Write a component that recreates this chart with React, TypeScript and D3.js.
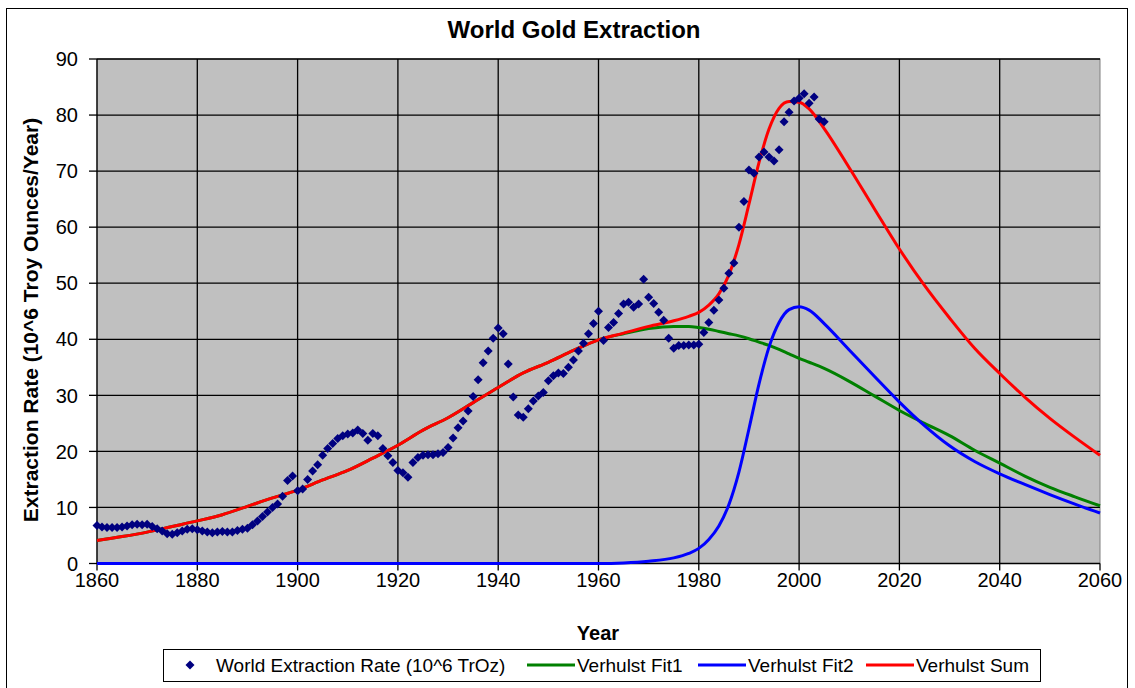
import React from "react";
import * as d3 from "d3";

// ---------- DATA ----------
const extractionStartYear = 1860;
// World extraction rate (10^6 troy oz / year), one value per year from 1860
const extractionValues = [
  6.8, 6.5, 6.4, 6.4, 6.4, 6.5, 6.7, 6.9, 7.0, 6.9,
  7.0, 6.6, 6.2, 5.8, 5.3, 5.2, 5.5, 5.8, 6.1, 6.2,
  6.0, 5.8, 5.6, 5.5, 5.6, 5.7, 5.6, 5.6, 5.9, 6.1,
  6.3, 6.9, 7.6, 8.4, 9.2, 10.0, 10.6, 12.0, 14.8, 15.6,
  13.0, 13.3, 15.0, 16.5, 17.6, 19.3, 20.5, 21.4, 22.3, 22.8,
  23.1, 23.3, 23.8, 23.2, 22.0, 23.2, 22.8, 20.5, 19.2, 18.0,
  16.6, 16.2, 15.4, 18.0, 18.9, 19.3, 19.4, 19.4, 19.6, 19.8,
  20.7, 22.4, 24.2, 25.4, 27.2, 29.8, 32.8, 35.8, 37.9, 40.2,
  42.0, 41.0, 35.6, 29.7, 26.5, 26.1, 27.6, 29.0, 29.9, 30.5,
  32.6, 33.5, 34.0, 33.9, 35.0, 36.3, 37.9, 39.3, 41.0, 42.8,
  45.0, 39.8, 42.1, 43.0, 44.6, 46.3, 46.6, 45.7, 46.3, 50.7,
  47.5, 46.4, 44.8, 43.4, 40.2, 38.4, 38.9, 38.9, 39.0, 39.0,
  39.1, 41.2, 43.0, 45.2, 47.0, 49.1, 51.8, 53.6, 60.0, 64.6,
  70.2, 69.6, 72.5, 73.4, 72.5, 71.8, 73.8, 78.8, 80.5, 82.5,
  83.0, 83.8, 82.1, 83.2, 79.3, 78.8,
];

const fitYears = [
  1860, 1865, 1870, 1875, 1880, 1885, 1890, 1895, 1900, 1905,
  1910, 1915, 1920, 1925, 1930, 1935, 1940, 1945, 1950, 1955,
  1960, 1965, 1970, 1975, 1978, 1980, 1982, 1984, 1986, 1988,
  1990, 1992, 1994, 1996, 1998, 2000, 2002, 2005, 2010, 2015,
  2020, 2025, 2030, 2035, 2040, 2045, 2050, 2055, 2060,
];
const fit1Values = [
  4.1, 4.8, 5.6, 6.6, 7.6, 8.7, 10.2, 11.7, 13.1, 14.9,
  16.6, 18.8, 21.1, 23.8, 26.0, 28.7, 31.4, 34.0, 35.9, 38.0,
  39.9, 41.0, 41.9, 42.3, 42.3, 42.1, 41.8, 41.4, 41.0, 40.6,
  40.1, 39.5, 38.9, 38.2, 37.4, 36.6, 35.9, 34.8, 32.5, 29.9,
  27.3, 25.0, 22.8, 20.2, 17.9, 15.6, 13.6, 11.9, 10.3,
];
const fit2Values = [
  0, 0, 0, 0, 0, 0, 0, 0, 0, 0,
  0, 0, 0, 0, 0, 0, 0, 0, 0, 0,
  0, 0.1, 0.4, 1.0, 1.8, 2.7, 4.3, 6.7, 10.5, 16.3,
  24.0, 32.0, 38.6, 43.0, 45.3, 45.8, 45.2, 42.8, 38.1, 33.4,
  28.8, 24.6, 21.0, 18.2, 16.0, 14.1, 12.3, 10.6, 9.0,
];
const sumValues = [
  4.1, 4.8, 5.6, 6.6, 7.6, 8.7, 10.2, 11.7, 13.1, 14.9,
  16.6, 18.8, 21.1, 23.8, 26.0, 28.7, 31.4, 34.0, 35.9, 38.0,
  39.9, 41.1, 42.3, 43.3, 44.1, 44.8, 46.1, 48.1, 51.5, 56.9,
  64.1, 71.5, 77.5, 81.2, 82.4, 82.3, 81.1, 77.6, 70.6, 63.3,
  56.1, 49.6, 43.8, 38.4, 33.9, 29.7, 25.9, 22.5, 19.3,
];

const xTicks = [1860, 1880, 1900, 1920, 1940, 1960, 1980, 2000, 2020, 2040, 2060];
const yTicks = [0, 10, 20, 30, 40, 50, 60, 70, 80, 90];

const titleText = "World Gold Extraction";
const xTitle = "Year";
const yTitle = "Extraction Rate (10^6 Troy Ounces/Year)";
const legendLabels = [
  "World Extraction Rate (10^6 TrOz)",
  "Verhulst Fit1",
  "Verhulst Fit2",
  "Verhulst Sum",
];

// ---------- STYLE ----------
const FONT = "'Liberation Sans', Arial, sans-serif";
const W = 1135;
const H = 688;
const plot = { left: 97, right: 1100, top: 59, bottom: 563.5 };
const COLORS = { marker: "#000080", fit1: "#008000", fit2: "#0000FF", sum: "#FF0000" };

function diamond(cx: number, cy: number, r: number) {
  return `M${cx},${cy - r}L${cx + r},${cy}L${cx},${cy + r}L${cx - r},${cy}Z`;
}

export default function App() {
  const x = d3.scaleLinear().domain([1860, 2060]).range([plot.left, plot.right]);
  const y = d3.scaleLinear().domain([0, 90]).range([plot.bottom, plot.top]);

  const line = d3
    .line<[number, number]>()
    .x((d) => x(d[0]))
    .y((d) => y(d[1]))
    .curve(d3.curveMonotoneX);

  const series = (vals: number[]) => fitYears.map((yr, i) => [yr, vals[i]] as [number, number]);

  const points = extractionValues.map((v, i) => [extractionStartYear + i, v] as [number, number]);

  const legendY = 665;

  return (
    <svg
      width={W}
      height={H}
      style={{ position: "absolute", left: 0, top: 0, background: "#fff" }}
      fontFamily={FONT}
    >
      {/* chart border */}
      <rect x={6.5} y={8.5} width={1121} height={690} fill="#fff" stroke="#000" strokeWidth={1} />

      {/* title */}
      <text x={574} y={38} textAnchor="middle" fontSize={24} fontWeight="bold" fill="#000">
        {titleText}
      </text>

      {/* plot area */}
      <rect
        x={plot.left}
        y={plot.top}
        width={plot.right - plot.left}
        height={plot.bottom - plot.top}
        fill="#C0C0C0"
        stroke="#808080"
        strokeWidth={1}
      />

      {/* gridlines */}
      {yTicks.slice(1).map((t) => (
        <line key={"gy" + t} x1={plot.left} x2={plot.right} y1={y(t)} y2={y(t)} stroke="#000" strokeWidth={1.3} />
      ))}
      {xTicks.slice(1, -1).map((t) => (
        <line key={"gx" + t} x1={x(t)} x2={x(t)} y1={plot.top} y2={plot.bottom} stroke="#000" strokeWidth={1.3} />
      ))}

      {/* axes */}
      <line x1={plot.left} x2={plot.left} y1={plot.top} y2={plot.bottom} stroke="#000" strokeWidth={1.3} />
      <line x1={plot.left} x2={plot.right} y1={plot.bottom} y2={plot.bottom} stroke="#000" strokeWidth={1.3} />
      {yTicks.map((t) => (
        <g key={"ty" + t}>
          <line x1={plot.left - 8} x2={plot.left} y1={y(t)} y2={y(t)} stroke="#000" strokeWidth={1.3} />
          <text x={78} y={y(t)} dy="0.36em" textAnchor="end" fontSize={20} fill="#000">
            {t}
          </text>
        </g>
      ))}
      {xTicks.map((t) => (
        <g key={"tx" + t}>
          <line x1={x(t)} x2={x(t)} y1={plot.bottom} y2={plot.bottom + 7} stroke="#000" strokeWidth={1.3} />
          <text x={x(t)} y={587} textAnchor="middle" fontSize={20} fill="#000">
            {t}
          </text>
        </g>
      ))}

      {/* axis titles */}
      <text x={598} y={640} textAnchor="middle" fontSize={20} fontWeight="bold" fill="#000">
        {xTitle}
      </text>
      <text
        transform="translate(30,320) rotate(-90)"
        textAnchor="middle"
        dominantBaseline="central"
        fontSize={21}
        fontWeight="bold"
        fill="#000"
      >
        {yTitle}
      </text>

      {/* lines */}
      <path d={line(series(fit1Values)) || ""} fill="none" stroke={COLORS.fit1} strokeWidth={3} />
      <path d={line(series(fit2Values)) || ""} fill="none" stroke={COLORS.fit2} strokeWidth={3} />
      <path d={line(series(sumValues)) || ""} fill="none" stroke={COLORS.sum} strokeWidth={3} />

      {/* markers */}
      {points.map((p, i) => (
        <path key={"m" + i} d={diamond(x(p[0]), y(p[1]), 4.5)} fill={COLORS.marker} />
      ))}

      {/* legend */}
      <rect x={163.5} y={649.5} width={877} height={32} fill="#fff" stroke="#000" strokeWidth={1} />
      <path d={diamond(190, legendY, 4.5)} fill={COLORS.marker} />
      <text x={216} y={legendY} dy="0.36em" fontSize={19} fill="#000">
        {legendLabels[0]}
      </text>
      <line x1={527} x2={575} y1={legendY} y2={legendY} stroke={COLORS.fit1} strokeWidth={3} />
      <text x={577} y={legendY} dy="0.36em" fontSize={19} fill="#000">
        {legendLabels[1]}
      </text>
      <line x1={698} x2={746} y1={legendY} y2={legendY} stroke={COLORS.fit2} strokeWidth={3} />
      <text x={748} y={legendY} dy="0.36em" fontSize={19} fill="#000">
        {legendLabels[2]}
      </text>
      <line x1={866} x2={914} y1={legendY} y2={legendY} stroke={COLORS.sum} strokeWidth={3} />
      <text x={916} y={legendY} dy="0.36em" fontSize={19} fill="#000">
        {legendLabels[3]}
      </text>
    </svg>
  );
}
